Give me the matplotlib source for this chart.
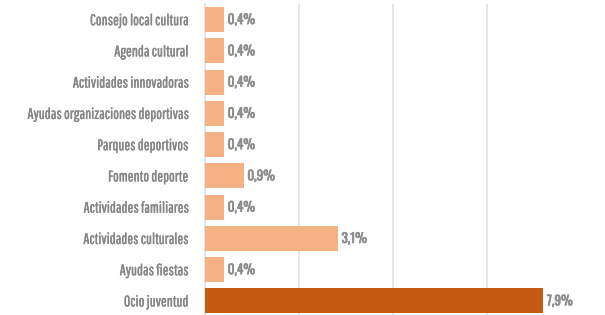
import matplotlib
matplotlib.use("Agg")
import matplotlib.pyplot as plt
import matplotlib.patheffects as pe

# data (top to bottom as shown)
categories = [
    "Consejo local cultura",
    "Agenda cultural",
    "Actividades innovadoras",
    "Ayudas organizaciones deportivas",
    "Parques deportivos",
    "Fomento deporte",
    "Actividades familiares",
    "Actividades culturales",
    "Ayudas fiestas",
    "Ocio juventud",
]
values = [0.44, 0.44, 0.44, 0.44, 0.44, 0.9, 0.44, 3.1, 0.44, 7.9]
labels = ["0,4%", "0,4%", "0,4%", "0,4%", "0,4%", "0,9%", "0,4%", "3,1%", "0,4%", "7,9%"]
highlight = "Ocio juventud"

light = "#F4B183"
dark = "#C55A11"
grey_txt = "#858585"
grey_val = "#8c8c8c"

label_font = ["Pathway Gothic One", "Oswald", "DejaVu Sans"]
value_font = ["Oswald", "Pathway Gothic One", "DejaVu Sans"]

fig = plt.figure(figsize=(6.05, 3.15), dpi=100)
ax = fig.add_axes([205 / 605, 0, 1 - 205 / 605, 311 / 315])

n = len(categories)
ypos = list(range(n - 1, -1, -1))
colors = [dark if c == highlight else light for c in categories]
bars = ax.barh(ypos, values, height=0.8, color=colors, zorder=3)

for b, lab in zip(bars, labels):
    t = ax.text(b.get_width() + 0.09, b.get_y() + b.get_height() / 2, lab,
                va="center", ha="left", fontsize=9.5,
                family=value_font, color=grey_val)
    t.set_path_effects([pe.withStroke(linewidth=0.45, foreground=grey_val)])

ax.set_yticks(ypos)
ax.set_yticklabels(categories, fontsize=11, color=grey_txt, family=label_font)
for t in ax.get_yticklabels():
    t.set_path_effects([pe.withStroke(linewidth=0.25, foreground=grey_txt)])
ax.tick_params(axis="y", length=0, pad=12)
ax.tick_params(axis="x", length=0, labelbottom=False)

ax.set_xlim(0, 9.35)
ax.set_ylim(-0.45, 9.5)
ax.set_xticks([0, 2.2, 4.4, 6.6])
ax.grid(axis="x", color="#e0e0e0", linewidth=1.2, zorder=0)

for s in ["top", "right", "bottom"]:
    ax.spines[s].set_visible(False)
ax.spines["left"].set_color("#e0e0e0")
ax.spines["left"].set_linewidth(1.2)

fig.savefig("out.png", dpi=100)
